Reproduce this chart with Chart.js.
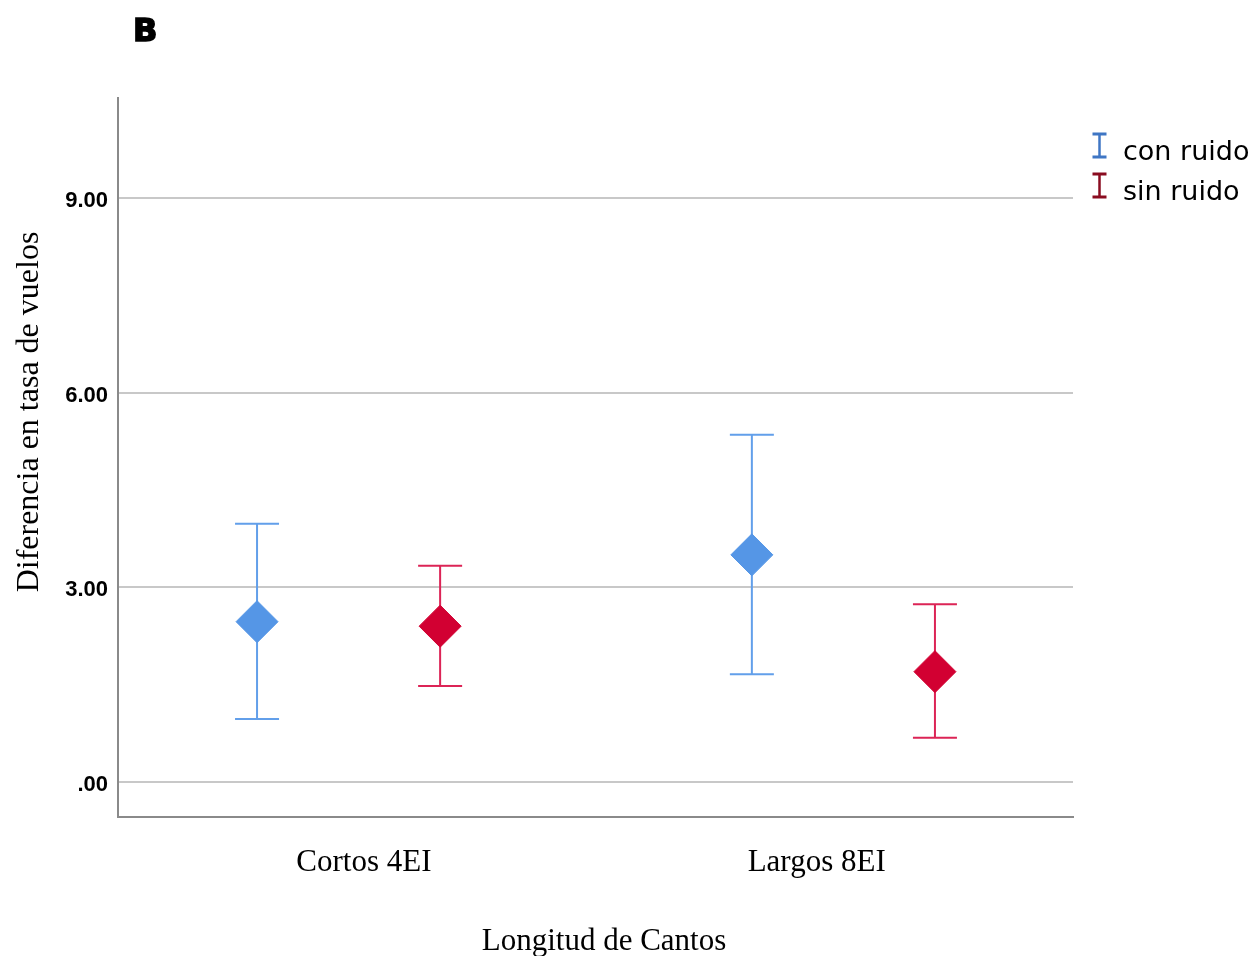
<!DOCTYPE html>
<html>
<head>
<meta charset="utf-8">
<script src="https://cdn.jsdelivr.net/npm/chart.js@4/dist/chart.umd.min.js"></script>
<style>
  html, body { margin: 0; padding: 0; background: #ffffff; }
  #wrap { width: 1254px; height: 956px; }
</style>
</head>
<body>
<div id="wrap"><canvas id="c" width="1254" height="956"></canvas></div>
<script>
// ---- data ----
const categories = ['Cortos 4EI', 'Largos 8EI'];
const seriesNames = ['con ruido', 'sin ruido'];
const conMean = [2.47, 3.50];
const conLow  = [0.97, 1.66];
const conHigh = [3.98, 5.35];
const sinMean = [2.40, 1.70];
const sinLow  = [1.48, 0.68];
const sinHigh = [3.33, 2.74];
const yTickValues = [0, 3, 6, 9];
const yTickLabels = ['.00', '3.00', '6.00', '9.00'];
const panelLabel = 'B';
const yTitle = 'Diferencia en tasa de vuelos';
const xTitle = 'Longitud de Cantos';

// ---- styling / layout ----
const clusterOffset = 0.185;
const labelShift = [0.031, -0.054];
const colors = {
  conPoint: '#5596e6', conBar: '#629fea', conLegend: '#3f76c4',
  sinPoint: '#d20032', sinBar: '#dc2456', sinLegend: '#8a0c20'
};
const serif = '"Liberation Serif", "Times New Roman", serif';

function pts(mean, low, high, off) {
  return categories.map((c, i) => ({ x: i + off, y: mean[i], lo: low[i], hi: high[i] }));
}

const errorBars = {
  id: 'errorBars',
  beforeDatasetsDraw(chart) {
    const { ctx, scales: { x, y } } = chart;
    chart.data.datasets.forEach(ds => {
      ctx.save();
      ctx.strokeStyle = ds.barColor;
      ctx.lineWidth = 2;
      ds.data.forEach(p => {
        const px = x.getPixelForValue(p.x);
        const yl = y.getPixelForValue(p.lo);
        const yh = y.getPixelForValue(p.hi);
        const hw = 22;
        ctx.beginPath();
        ctx.moveTo(px, yl); ctx.lineTo(px, yh);
        ctx.moveTo(px - hw, yl); ctx.lineTo(px + hw, yl);
        ctx.moveTo(px - hw, yh); ctx.lineTo(px + hw, yh);
        ctx.stroke();
      });
      ctx.restore();
    });
  }
};

const decorations = {
  id: 'decorations',
  afterDraw(chart) {
    const { ctx } = chart;
    ctx.save();
    // panel label
    ctx.fillStyle = '#000';
    ctx.strokeStyle = '#000';
    ctx.lineWidth = 1.6;
    ctx.font = 'bold 32px "DejaVu Sans", sans-serif';
    ctx.textAlign = 'left';
    ctx.textBaseline = 'alphabetic';
    ctx.fillText(panelLabel, 133, 41);
    ctx.strokeText(panelLabel, 133, 41);
    // y title
    ctx.font = '32px ' + serif;
    ctx.save();
    ctx.translate(38, 412);
    ctx.rotate(-Math.PI / 2);
    ctx.textAlign = 'center';
    ctx.fillText(yTitle, 0, 0);
    ctx.restore();
    // x title
    ctx.font = '31px ' + serif;
    ctx.textAlign = 'center';
    ctx.fillText(xTitle, 604, 950);
    // legend
    const legendCols = [colors.conLegend, colors.sinLegend];
    ctx.font = '27px "DejaVu Sans", sans-serif';
    ctx.textAlign = 'left';
    seriesNames.forEach((name, i) => {
      const base = 160 + i * 40;
      const top = base - 26, bot = base - 3;
      const cx = 1099.5;
      ctx.strokeStyle = legendCols[i];
      ctx.lineWidth = 3;
      ctx.beginPath();
      ctx.moveTo(cx - 7, top); ctx.lineTo(cx + 7, top);
      ctx.moveTo(cx - 7, bot); ctx.lineTo(cx + 7, bot);
      ctx.stroke();
      ctx.lineWidth = 2.5;
      ctx.beginPath();
      ctx.moveTo(cx, top); ctx.lineTo(cx, bot);
      ctx.stroke();
      ctx.fillStyle = '#000';
      ctx.fillText(name, 1123, base);
    });
    ctx.restore();
  }
};

new Chart(document.getElementById('c'), {
  type: 'scatter',
  data: {
    datasets: [
      {
        label: seriesNames[0],
        data: pts(conMean, conLow, conHigh, -clusterOffset),
        pointStyle: 'rectRot', pointRadius: 21, pointBorderWidth: 1,
        backgroundColor: colors.conPoint, borderColor: colors.conPoint,
        barColor: colors.conBar
      },
      {
        label: seriesNames[1],
        data: pts(sinMean, sinLow, sinHigh, clusterOffset),
        pointStyle: 'rectRot', pointRadius: 21, pointBorderWidth: 1,
        backgroundColor: colors.sinPoint, borderColor: colors.sinPoint,
        barColor: colors.sinBar
      }
    ]
  },
  options: {
    responsive: false,
    animation: false,
    events: [],
    layout: { padding: { left: 0, top: 98, right: 181, bottom: 0 } },
    plugins: { legend: { display: false }, tooltip: { enabled: false }, title: { display: false } },
    scales: {
      x: {
        type: 'linear',
        min: -0.466, max: 1.464,
        afterBuildTicks(scale) {
          scale.ticks = categories.map((c, i) => ({ value: i + labelShift[i] }));
        },
        afterFit(scale) { scale.height = 139; },
        ticks: {
          autoSkip: false, maxRotation: 0,
          padding: 27,
          color: '#000',
          font: { family: serif, size: 31 },
          callback(v, idx) { return categories[idx]; }
        },
        grid: { display: false, drawTicks: false },
        border: { display: true, color: '#8a8a8a', width: 2 }
      },
      y: {
        min: -0.54, max: 10.54,
        afterBuildTicks(scale) {
          scale.ticks = yTickValues.map(v => ({ value: v }));
        },
        afterFit(scale) { scale.width = 118; },
        ticks: {
          padding: 10,
          labelOffset: 3,
          color: '#000',
          font: { family: '"Liberation Sans", Arial, sans-serif', size: 22, weight: 'bold' },
          callback(v) { const k = yTickValues.indexOf(v); return k >= 0 ? yTickLabels[k] : ''; }
        },
        grid: { color: '#c8c8c8', lineWidth: 2, drawTicks: false },
        border: { display: true, color: '#8a8a8a', width: 2 }
      }
    }
  },
  plugins: [errorBars, decorations]
});
</script>
</body>
</html>
